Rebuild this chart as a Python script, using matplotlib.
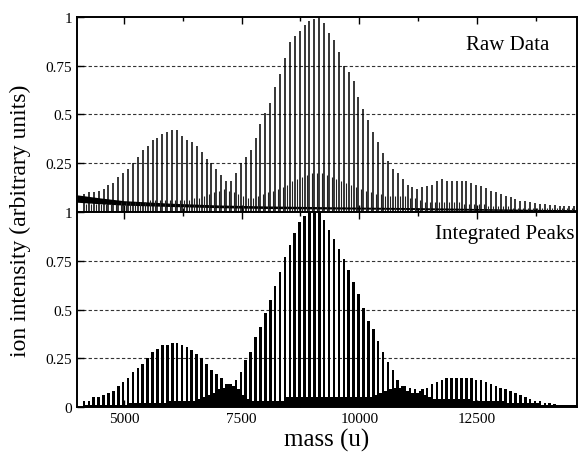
import matplotlib
matplotlib.use("Agg")
import matplotlib.pyplot as plt
import numpy as np
from matplotlib.ticker import MultipleLocator

plt.rcParams['font.family'] = ['Liberation Serif', 'DejaVu Serif']

# peak masses (u) of the polystyrene series
masses = [4150, 4254, 4358, 4462, 4567, 4671, 4775, 4879, 4983, 5087,
          5192, 5296, 5400, 5504, 5608, 5712, 5816, 5921, 6025, 6129,
          6233, 6337, 6441, 6545, 6650, 6754, 6858, 6962, 7066, 7170,
          7275, 7379, 7483, 7587, 7691, 7795, 7899, 8004, 8108, 8212,
          8316, 8420, 8524, 8628, 8733, 8837, 8941, 9045, 9149, 9253,
          9358, 9462, 9566, 9670, 9774, 9878, 9982, 10087, 10191, 10295,
          10399, 10503, 10607, 10711, 10816, 10920, 11024, 11128, 11232, 11336,
          11441, 11545, 11649, 11753, 11857, 11961, 12065, 12170, 12274, 12378,
          12482, 12586, 12690, 12794, 12899, 13003, 13107, 13211, 13315, 13419,
          13524, 13628, 13732, 13836, 13940, 14044, 14148, 14253, 14357, 14461,
          14565]
minor_offset = 52  # mass shift of the second end-group series

raw_height = [0.09, 0.10, 0.10, 0.11, 0.12, 0.14, 0.15, 0.18, 0.20, 0.22,
              0.25, 0.28, 0.32, 0.34, 0.37, 0.38, 0.40, 0.41, 0.42, 0.42,
              0.39, 0.37, 0.36, 0.34, 0.31, 0.27, 0.25, 0.22, 0.19, 0.16,
              0.16, 0.20, 0.25, 0.28, 0.32, 0.38, 0.45, 0.51, 0.56, 0.64,
              0.71, 0.79, 0.87, 0.90, 0.93, 0.96, 0.98, 0.99, 1.00, 0.97,
              0.92, 0.88, 0.82, 0.75, 0.72, 0.67, 0.59, 0.53, 0.47, 0.41,
              0.36, 0.30, 0.26, 0.22, 0.20, 0.17, 0.14, 0.13, 0.12, 0.13,
              0.135, 0.14, 0.16, 0.17, 0.16, 0.16, 0.16, 0.16, 0.16, 0.15,
              0.14, 0.135, 0.125, 0.11, 0.10, 0.09, 0.083, 0.075, 0.066, 0.058,
              0.055, 0.05, 0.046, 0.043, 0.04, 0.038, 0.036, 0.033, 0.033, 0.03,
              0.03]
raw_minor = [0.04, 0.04, 0.04, 0.04, 0.04, 0.04, 0.04, 0.05, 0.05, 0.05,
             0.05, 0.05, 0.05, 0.06, 0.06, 0.06, 0.06, 0.06, 0.06, 0.06,
             0.06, 0.06, 0.07, 0.07, 0.08, 0.09, 0.10, 0.11, 0.12, 0.11,
             0.10, 0.09, 0.08, 0.07, 0.07, 0.08, 0.09, 0.10, 0.11, 0.12,
             0.13, 0.14, 0.16, 0.17, 0.18, 0.19, 0.20, 0.20, 0.20, 0.19,
             0.18, 0.17, 0.16, 0.15, 0.14, 0.13, 0.12, 0.11, 0.10, 0.09,
             0.09, 0.08, 0.08, 0.08, 0.08, 0.08, 0.07, 0.07, 0.06, 0.05,
             0.05, 0.05, 0.05, 0.05, 0.05, 0.05, 0.05, 0.04, 0.04, 0.04,
             0.04, 0.04, 0.03, 0.03, 0.03, 0.03, 0.03, 0.02, 0.02, 0.02,
             0.02, 0.02, 0.02, 0.02, 0.02, 0.02, 0.02, 0.02, 0.02, 0.02,
             0.02]

# smooth background of the raw spectrum (lower / upper edge of the noise band)
baseline_mass = [4000, 4500, 5000, 6000, 7000, 8000, 9000, 10000, 11000, 12000, 13000, 14000, 14700]
baseline_low = [0.050, 0.042, 0.035, 0.028, 0.022, 0.018, 0.016, 0.015, 0.013, 0.010, 0.008, 0.006, 0.005]
baseline_high = [0.088, 0.072, 0.058, 0.045, 0.036, 0.031, 0.028, 0.025, 0.023, 0.020, 0.016, 0.013, 0.012]

integrated = [0.03, 0.03, 0.05, 0.05, 0.06, 0.07, 0.08, 0.11, 0.13, 0.15,
              0.18, 0.20, 0.22, 0.25, 0.28, 0.30, 0.32, 0.32, 0.33, 0.33,
              0.32, 0.31, 0.29, 0.27, 0.25, 0.22, 0.19, 0.17, 0.15, 0.12,
              0.12, 0.14, 0.18, 0.24, 0.28, 0.36, 0.41, 0.48, 0.55, 0.62,
              0.69, 0.77, 0.83, 0.89, 0.95, 0.98, 1.00, 1.00, 1.00, 0.96,
              0.91, 0.86, 0.81, 0.76, 0.70, 0.64, 0.58, 0.51, 0.44, 0.40,
              0.34, 0.28, 0.23, 0.19, 0.14, 0.11, 0.08, 0.07, 0.07, 0.09,
              0.10, 0.12, 0.13, 0.14, 0.15, 0.15, 0.15, 0.15, 0.15, 0.15,
              0.14, 0.14, 0.13, 0.12, 0.11, 0.10, 0.09, 0.08, 0.07, 0.06,
              0.05, 0.04, 0.03, 0.03, 0.02, 0.02, 0.015, 0.01, 0.01, 0.01,
              0.01]
integrated_minor = [0.01, 0.01, 0.01, 0.01, 0.01, 0.01, 0.01, 0.01, 0.01, 0.02,
                    0.02, 0.02, 0.02, 0.02, 0.02, 0.02, 0.02, 0.03, 0.03, 0.03,
                    0.03, 0.03, 0.03, 0.04, 0.05, 0.06, 0.07, 0.09, 0.10, 0.12,
                    0.11, 0.09, 0.06, 0.04, 0.03, 0.03, 0.03, 0.03, 0.03, 0.03,
                    0.03, 0.05, 0.05, 0.05, 0.05, 0.05, 0.05, 0.05, 0.05, 0.05,
                    0.05, 0.05, 0.05, 0.05, 0.05, 0.05, 0.05, 0.05, 0.05, 0.06,
                    0.07, 0.08, 0.09, 0.10, 0.10, 0.11, 0.10, 0.09, 0.08, 0.06,
                    0.05, 0.04, 0.04, 0.04, 0.04, 0.04, 0.04, 0.04, 0.04, 0.03,
                    0.03, 0.03, 0.03, 0.03, 0.03, 0.03, 0.02, 0.02, 0.02, 0.02,
                    0.02, 0.02, 0.02, 0.01, 0.01, 0.01, 0.01, 0.01, 0.01, 0.01,
                    0.01]

masses = np.array(masses)

fig, (ax1, ax2) = plt.subplots(2, 1, sharex=True, figsize=(5.78, 4.60), dpi=100)
fig.subplots_adjust(left=0.133, right=0.998, top=0.961, bottom=0.113, hspace=0)

# raw spectrum: thin peaks on top of the noise band
ax1.vlines(masses + minor_offset, 0, raw_minor, color='#222222', lw=0.8)
ax1.vlines(masses, 0, raw_height, color='black', lw=1.1)
ax1.fill_between(baseline_mass, baseline_low, baseline_high, color='black', lw=0)

# integrated peak areas as sticks
ax2.bar(masses + minor_offset, integrated_minor, width=52, color='black', lw=0)
ax2.bar(masses, integrated, width=55, color='black', lw=0)

for ax in (ax1, ax2):
    ax.set_xlim(4000, 14620)
    ax.set_ylim(0, 1)
    for yv in (0.25, 0.5, 0.75):
        ax.axhline(yv, color='#333333', lw=0.8, ls=(0, (3, 2)), zorder=0)
    ax.xaxis.set_major_locator(MultipleLocator(2500))
    ax.xaxis.set_minor_locator(MultipleLocator(1250))
    ax.tick_params(axis='both', which='both', direction='in', top=True,
                   labelsize=11, length=5, width=1.0)
    ax.tick_params(axis='x', which='minor', length=3)
    for s in ax.spines.values():
        s.set_linewidth(1.4)

ax1.set_yticks([0.25, 0.5, 0.75, 1])
ax1.set_yticklabels(['0.25', '0.5', '0.75', '1'])
ax2.set_yticks([0, 0.25, 0.5, 0.75, 1])
ax2.set_yticklabels(['0', '0.25', '0.5', '0.75', '1'])
ax2.set_xticks([5000, 7500, 10000, 12500])
ax2.set_xticklabels(['5000', '7500', '10000', '12500'])

ax1.text(0.946, 0.86, 'Raw Data', transform=ax1.transAxes, ha='right', va='center', fontsize=15)
ax2.text(0.995, 0.89, 'Integrated Peaks', transform=ax2.transAxes, ha='right', va='center', fontsize=15)

ax2.set_xlabel('mass (u)', fontsize=18, labelpad=2)
fig.text(0.035, 0.52, 'ion intensity (arbitrary units)', rotation=90, ha='center', va='center', fontsize=17)

fig.savefig('out.png', dpi=100)
